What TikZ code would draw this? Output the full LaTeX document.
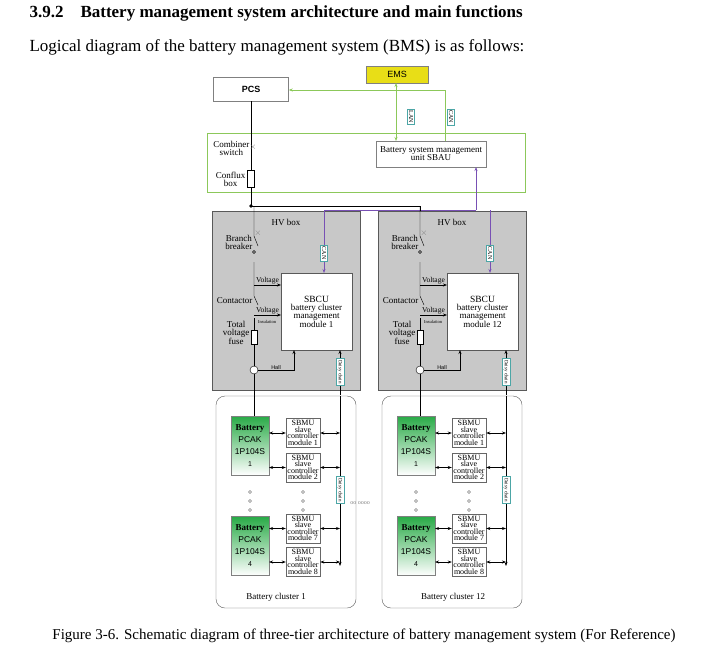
\documentclass[tikz,border=0pt]{standalone}
\usepackage{fontspec}
\setmainfont{Liberation Serif}
\newfontfamily\sansf{Liberation Sans}
\usetikzlibrary{arrows.meta}
\definecolor{gline}{RGB}{140,200,90}
\definecolor{pur}{RGB}{120,80,180}
\definecolor{bgreen}{RGB}{40,170,70}
\definecolor{hvgray}{RGB}{200,200,200}
\begin{document}
\begin{tikzpicture}[x=1pt,y=-1pt,
  lab/.style={font=\fontsize{9}{8}\selectfont,align=center,inner sep=0.5pt},
  tag/.style={draw=teal!70,fill=white,font=\fontsize{6}{6}\selectfont,rotate=-90,inner sep=1.5pt},
  sbmu/.style={draw=gray!80!black,fill=white,minimum width=34pt,minimum height=29pt,font=\fontsize{8}{6.5}\selectfont,align=center,inner sep=0pt},
  bat/.style={draw=gray,top color=bgreen,bottom color=white,minimum width=38pt,minimum height=59pt,inner sep=0pt,align=center,font=\fontsize{8.5}{12}\selectfont},
  arr/.style={-{Stealth[length=4pt]},line width=0.7pt},
  darr/.style={{Stealth[length=4pt]}-{Stealth[length=4pt]},line width=0.7pt}]
\useasboundingbox (0,0) rectangle (711,647);
\node[anchor=west,font=\bfseries\fontsize{17}{17}\selectfont] (h) at (26,13) {3.9.2\quad Battery management system architecture and main functions};
\node[anchor=west,font=\fontsize{17}{17}\selectfont] (h2) at (26,47) {Logical diagram of the battery management system (BMS) is as follows:};
\node[anchor=north,font=\fontsize{15}{15}\selectfont] (cap) at (364,625) {Figure 3-6. Schematic diagram of three-tier architecture of battery management system (For Reference)};
% top level
\draw[gline,fill=white] (207,133) rectangle (525,192);
\node[draw=gray,fill=yellow!90!black,minimum width=62pt,minimum height=17pt,inner sep=0pt,font=\sansf\fontsize{9}{9}\selectfont] (ems) at (397,74.5) {EMS};
\node[draw=gray,fill=white,minimum width=75pt,minimum height=24pt,inner sep=0pt,font=\sansf\bfseries\fontsize{9}{9}\selectfont] (pcs) at (251,89) {PCS};
\node[draw=gray,fill=white,minimum width=110pt,minimum height=26pt,inner sep=0pt,lab] (sbau) at (431,154) {Battery system management\\unit SBAU};
\draw[gline,darr] (396,83) -- (396,141);
\coordinate (gc) at (445,90);
\draw[gline,line width=0.7pt] (445,141) -- (gc);
\draw[gline,arr] (gc) -- (pcs.east |- gc);
\node[tag] (lan) at (411,117) {LAN};
\node[tag] (can) at (451,117) {CAN};
\coordinate (dot) at (251,206);
\draw (pcs.south) -- (251,170);
\draw (251,187) -- (dot);
\node[draw,minimum width=7pt,minimum height=17pt,inner sep=0pt,fill=white] (cfx) at (251,178.5) {};
\node[font=\fontsize{9}{9}\selectfont,gray] (xm) at (253,147) {$\times$};
\node[lab,anchor=east] (cs) at (250,148) {Combiner\\switch};
\node[lab,anchor=east] (cb) at (246,179) {Conflux\\box};
\fill (dot) circle (1.8pt);
\draw (dot) -- (420,206);
\draw[pur,line width=0.7pt] (324,210) -- (476,210);
\draw[pur,arr] (476,210) -- (476,167);
% clusters
\foreach \dx/\num/\lbl/\lx in {0/1/1/276,166/12/12/453}{
 \begin{scope}[xshift=\dx]
  \draw[gray!70!black,fill=hvgray] (212,211) rectangle (360,390);
  \node[lab] at (286,222) {HV box};
  \node[draw=gray!70!black,fill=white,minimum width=71pt,minimum height=77pt,inner sep=0pt,lab] (sb\num) at (316.5,311.5) {\fontsize{9.5}{9.5}\selectfont SBCU\\battery cluster\\management\\module \lbl};
  \draw (254,206) -- (254,236) -- (258,246) ;
  \draw (254,262) -- (254,296) -- (258,305);
  \draw (254,318) -- (254,380);
  \draw (254,252) circle (1.5pt);
  \node[font=\fontsize{9}{9}\selectfont,gray] at (258,233) {$\times$};
  \node[lab,anchor=east] at (253,242) {Branch\\breaker};
  \node[lab,anchor=east] at (253,301) {Contactor};
  \node[lab,anchor=east] at (250,333) {Total\\voltage\\fuse};
  \node[draw,fill=white,minimum width=6pt,minimum height=14pt,inner sep=0pt] at (254,337) {};
  \draw[arr] (254,285) -- node[lab,above,pos=0.5,font=\fontsize{7.5}{7}\selectfont] {Voltage} (281,285);
  \draw[arr] (254,315) -- node[lab,above,pos=0.5,font=\fontsize{7.5}{7}\selectfont] {Voltage} (281,315);
  \node[lab,font=\fontsize{4.5}{4.5}\selectfont] at (267,322) {Insulation};
  \draw[fill=white] (254,370) circle (4pt);
  \draw[arr] (258,370) -- node[lab,above,font=\sansf\fontsize{5.5}{5.5}\selectfont] {Hall} (294,370) -- (294,350);
  \draw[pur,arr] (324,210) -- (324,273);
  \node[tag] at (324,253) {CAN};
  \draw[arr] (340,395) -- (340,350);
  \node[tag,font=\fontsize{5}{5}\selectfont] at (340,372) {Daisy chain};
  \draw (254,380) -- (254,396) ;
  % battery cluster
  \draw[gray!70!black,fill=white,rounded corners=9pt] (216,396) rectangle (356,608);
  \draw (254,396) -- (254,416);
  \node[bat] (b\num a) at (250,445.5) {\textbf{\rmfamily\fontsize{9}{9}\selectfont Battery}\\{\sansf PCAK}\\{\sansf 1P104S}\\{\sansf\fontsize{7}{7}\selectfont 1}};
  \node[bat] (b\num b) at (250,546) {\textbf{\rmfamily\fontsize{9}{9}\selectfont Battery}\\{\sansf PCAK}\\{\sansf 1P104S}\\{\sansf\fontsize{7}{7}\selectfont 4}};
  \foreach \y/\m in {433/1,467.5/2,528.5/7,562/8}{
    \node[sbmu] (s\num\m) at (303,\y) {SBMU\\slave\\controller\\module \m};
    \draw[darr] (s\num\m.east) -- (340,\y);
    \draw[darr] (269,\y) -- (s\num\m.west);
  }
  \draw[arr] (340,396) -- (340,566);
  \node[tag,font=\fontsize{5}{5}\selectfont] at (340,490) {Daisy chain};
  \foreach \y in {492,501,510}{\draw[gray] (250,\y) circle (1.5pt); \draw[gray] (303,\y) circle (1.5pt);}
  \node[lab] at (\lx-\dx,597) {Battery cluster \lbl};
 \end{scope}
}
\draw (420,206) -- (420,211);
\node[gray,font=\fontsize{6}{6}\selectfont] (dd) at (360,503) {oo oooo};
\end{tikzpicture}
\end{document}
